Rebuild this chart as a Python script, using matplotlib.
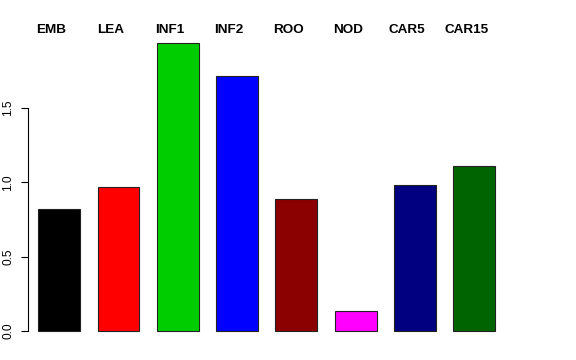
import matplotlib
matplotlib.use("Agg")
import matplotlib.pyplot as plt

# tissue groups and their values
labels = ["EMB", "LEA", "INF1", "INF2", "ROO", "NOD", "CAR5", "CAR15"]
values = [0.819, 0.971, 1.938, 1.717, 0.886, 0.133, 0.982, 1.111]
colors = ["#000000", "#FF0000", "#00CD00", "#0000FF",
          "#8B0000", "#FF00FF", "#000080", "#006400"]
yticks = [0.0, 0.5, 1.0, 1.5]

W, H = 576, 360
fig = plt.figure(figsize=(W / 100, H / 100), dpi=100)

# axes placed in pixel terms so it lines up with the R-style layout
left, right, top, bottom = 28, 540, 20, 342
ax = fig.add_axes([left / W, 1 - bottom / H, (right - left) / W, (bottom - top) / H])

x = list(range(len(labels)))
ax.bar(x, values, width=0.708, color=colors, edgecolor="#222222", linewidth=0.8)

y0, scale = 330.7, 148.3
ax.set_ylim(-(bottom - y0) / scale, (y0 - top) / scale)
ax.set_xlim((left - 59.2) / 59.3, (right - 59.2) / 59.3)

label_y = (y0 - 30) / scale
for xi, lab in zip(x, labels):
    ax.text(xi - 0.135, label_y, lab, ha="center", va="center",
            fontsize=9.7, fontweight="bold", family="Liberation Sans")

for side in ["top", "right", "bottom"]:
    ax.spines[side].set_visible(False)
ax.spines["left"].set_bounds(0, 1.5)
ax.spines["left"].set_linewidth(0.8)
ax.set_xticks([])
ax.set_yticks(yticks)
ax.set_yticklabels([f"{v:.1f}" for v in yticks], rotation=90, va="center",
                   fontsize=8.6, family="Liberation Sans")
ax.tick_params(axis="y", length=5, width=0.8, pad=5)

fig.savefig("out.png", dpi=100)
